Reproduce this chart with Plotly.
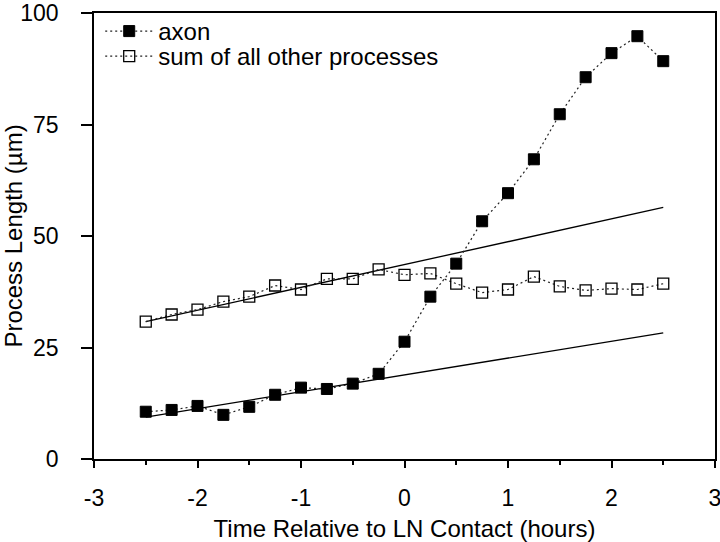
import plotly.graph_objects as go

time_h = [-2.5, -2.25, -2.0, -1.75, -1.5, -1.25, -1.0, -0.75, -0.5, -0.25,
          0.0, 0.25, 0.5, 0.75, 1.0, 1.25, 1.5, 1.75, 2.0, 2.25, 2.5]
axon = [10.6, 11.0, 11.9, 9.9, 11.7, 14.4, 16.0, 15.7, 16.9, 19.1,
        26.3, 36.4, 43.8, 53.3, 59.6, 67.2, 77.3, 85.6, 91.0, 94.8, 89.2]
others = [30.8, 32.4, 33.5, 35.3, 36.4, 38.9, 38.0, 40.4, 40.4, 42.5,
          41.3, 41.6, 39.3, 37.3, 38.0, 40.9, 38.7, 37.8, 38.2, 38.0, 39.3]

fit_x = [-2.5, 2.5]
fit_others = [30.8, 56.4]
fit_axon = [9.4, 28.3]

x_ticks = [-3, -2, -1, 0, 1, 2, 3]
y_ticks = [0, 25, 50, 75, 100]

font = "Liberation Sans, Arial, sans-serif"
FS = 23
FT = 24

fig = go.Figure()
fig.add_trace(go.Scatter(x=fit_x, y=fit_others, mode="lines",
                         line=dict(color="black", width=1.3),
                         showlegend=False, hoverinfo="skip"))
fig.add_trace(go.Scatter(x=fit_x, y=fit_axon, mode="lines",
                         line=dict(color="black", width=1.3),
                         showlegend=False, hoverinfo="skip"))
fig.add_trace(go.Scatter(x=time_h, y=axon, mode="lines+markers", name="axon",
                         legend="legend",
                         line=dict(color="#222", width=1.2, dash="2px,3px"),
                         marker=dict(symbol="square", size=11, color="black",
                                     line=dict(color="black", width=1))))
fig.add_trace(go.Scatter(x=time_h, y=others, mode="lines+markers",
                         name="sum of all other processes", legend="legend2",
                         line=dict(color="#222", width=1.2, dash="2px,3px"),
                         marker=dict(symbol="square-open", size=11, color="black",
                                     line=dict(color="black", width=1.3))))

legend_style = dict(xanchor="left", yanchor="top", bgcolor="rgba(0,0,0,0)",
                    font=dict(size=FT), itemwidth=48)

fig.update_layout(
    width=720, height=542,
    margin=dict(l=94, r=5, t=13, b=83, autoexpand=False),
    paper_bgcolor="white", plot_bgcolor="white",
    font=dict(family=font, size=FS, color="black"),
    legend=dict(x=0.01, y=1.009, **legend_style),
    legend2=dict(x=0.01, y=0.953, **legend_style),
    showlegend=True,
)
fig.update_xaxes(range=[-3, 3], tickvals=x_ticks, ticktext=[str(v) for v in x_ticks],
                 ticks="outside", ticklen=7, tickwidth=1.5, tickcolor="black",
                 ticklabelstandoff=11, ticklabeloverflow="allow",
                 minor=dict(dtick=0.5, tick0=0, ticks="outside", ticklen=4,
                            tickwidth=1.5, tickcolor="black", showgrid=False),
                 showline=True, linecolor="black", linewidth=1.5, mirror=True,
                 showgrid=False, zeroline=False, automargin=False,
                 title=dict(text="Time Relative to LN Contact (hours)", standoff=10,
                            font=dict(size=FT)),
                 tickfont=dict(size=FS))
fig.update_yaxes(range=[0, 100], tickvals=y_ticks, ticktext=[str(v) for v in y_ticks],
                 ticks="outside", ticklen=11, tickwidth=1.5, tickcolor="black",
                 ticklabelstandoff=18, ticklabeloverflow="allow",
                 showline=True, linecolor="black", linewidth=1.5, mirror=True,
                 showgrid=False, zeroline=False, automargin=False,
                 title=dict(text="Process Length (µm)", standoff=4,
                            font=dict(size=FT)),
                 tickfont=dict(size=FS))

fig.write_html(
    "out.html",
    config={"displayModeBar": False},
    post_script="document.body.style.margin='0';document.body.style.overflow='hidden';",
)
